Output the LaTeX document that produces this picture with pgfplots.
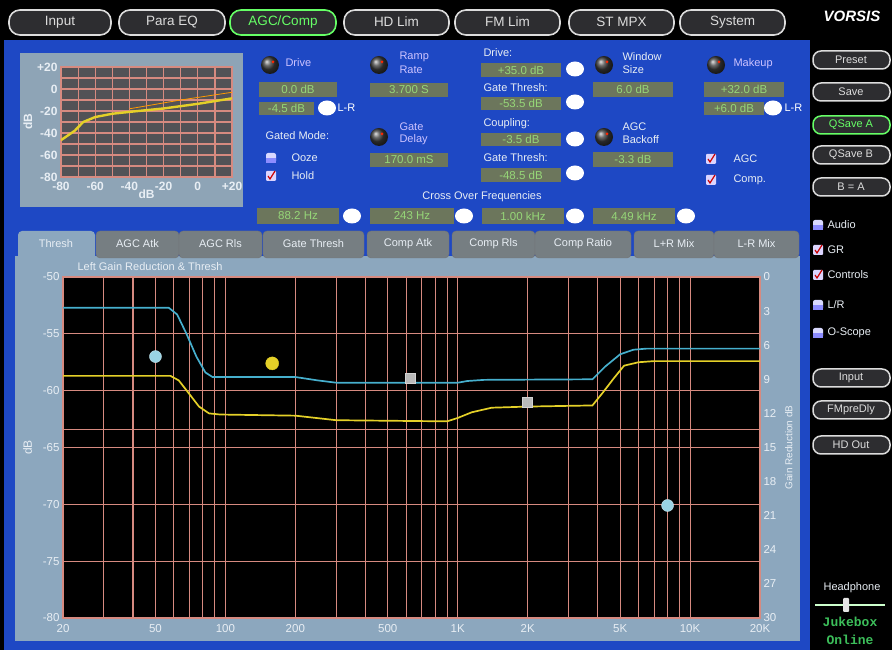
\documentclass[border=0pt]{standalone}
\usepackage{fontspec}
\setmainfont{Liberation Sans}
\setmonofont{Liberation Mono}
\usepackage{pgfplots}
\pgfplotsset{compat=1.18}

\definecolor{uiblue}{RGB}{30,72,196}
\definecolor{panel}{RGB}{140,167,190}
\definecolor{gridc}{RGB}{214,138,128}
\definecolor{labc}{RGB}{232,238,244}
\definecolor{boxf}{RGB}{108,118,92}
\definecolor{boxt}{RGB}{150,215,120}
\definecolor{lav}{RGB}{205,195,255}
\definecolor{cyanc}{RGB}{70,175,205}
\definecolor{yelc}{RGB}{228,208,40}
\definecolor{tabg}{RGB}{118,126,130}
\definecolor{btnfill}{RGB}{45,45,48}
\definecolor{grn}{RGB}{60,190,90}
\definecolor{insetbg}{RGB}{82,82,86}
\definecolor{insetpan}{RGB}{142,164,182}
\definecolor{btntext}{RGB}{220,220,220}

\newcommand\uif{\fontsize{11}{13}\selectfont}
\newcommand\valf{\fontsize{11.5}{13}\selectfont}
\newcommand\bigf{\fontsize{13.5}{15}\selectfont}

% value box: x1 y1 x2 y2 text
\newcommand\valbox[5]{\fill[boxf] (#1,#2) rectangle (#3,#4);
  \node[text=boxt, font=\valf] at ({(#1+#3)/2},{(#2+#4)/2}) {#5};}
\newcommand\slider[2]{\fill[white] (#1,#2) ellipse[x radius=9pt, y radius=7.5pt];}
\newcommand\dial[2]{\shade[ball color=black!55!gray] (#1,#2) circle[radius=9pt];
  \fill[red!70!orange] ({#1+3},{#2-3}) circle[radius=1.5pt];}
\newcommand\chkicon[2]{\fill[lav!70!white, rounded corners=1pt] ({#1-5},{#2-5}) rectangle ({#1+5},{#2+5});
  \draw[red!80!black, line width=1.2pt] ({#1-3},#2) -- ({#1-1},{#2+3}) -- ({#1+4},{#2-5});}
\newcommand\cylicon[2]{\fill[white!85!blue, rounded corners=2pt] ({#1-5},{#2-5}) rectangle ({#1+5},{#2+5});
  \fill[blue!45!white] ({#1-5},{#2}) rectangle ({#1+5},{#2+5});}
% top button: x1 x2 label colour
\newcommand\topbtn[4]{\draw[line width=1.6pt, draw=#4, fill=btnfill, rounded corners=11pt] (#1,10) rectangle (#2,35);
  \node[text=#4, font=\bigf] at ({(#1+#2)/2},22) {#3};}
% side button: centre y, label, colour
\newcommand\sidebtn[3]{\draw[line width=1.5pt, draw=#3, fill=btnfill, rounded corners=8pt] (813,{#1-9}) rectangle (890,{#1+9});
  \node[text=#3, font=\uif] at (851,#1) {#2};}
% panel tab: x1 x2 label fill
\newcommand\ptab[4]{\filldraw[fill=#4, draw=black!55, rounded corners=4pt] (#1,258) -- (#1,231) -- (#2,231) -- (#2,258) -- cycle;
  \node[text=labc, font=\uif] at ({(#1+#2)/2},244) {#3};}

\begin{document}
\begin{tikzpicture}[x=1pt,y=1pt]
\useasboundingbox (0,0) rectangle (892,650);
\fill[black] (0,0) rectangle (892,650);

\begin{scope}[shift={(0,650)}, y=-1pt]
  \fill[uiblue] (4,40) rectangle (810,650);
  % top row
  \topbtn{9}{111}{Input}{btntext}
  \topbtn{119}{225}{Para EQ}{btntext}
  \topbtn{230}{336}{AGC/Comp}{green!60!white}
  \topbtn{344}{449}{HD Lim}{btntext}
  \topbtn{455}{560}{FM Lim}{btntext}
  \topbtn{569}{674}{ST MPX}{btntext}
  \topbtn{680}{785}{System}{btntext}
  \node[text=white, font=\fontsize{15}{16}\selectfont\bfseries\itshape] at (852,16) {VORSIS};

  % inset panel
  \fill[insetpan] (20,53) rectangle (243,207);

  % controls
  \dial{270}{65} \node[text=lav, font=\uif, anchor=west] at (282,63) {Drive};
  \valbox{259}{82}{337}{97}{0.0 dB}
  \valbox{259}{102}{314}{115}{-4.5 dB} \slider{327}{108}
  \node[text=white, font=\uif, anchor=west] at (334,108) {L-R};
  \dial{379}{65}
  \node[text=lav, font=\uif, anchor=west] at (396,57) {Ramp};
  \node[text=lav, font=\uif, anchor=west] at (396,70) {Rate};
  \valbox{370}{83}{448}{97}{3.700 S}
  \node[text=labc, font=\uif, anchor=west] at (480,53) {Drive:};
  \valbox{481}{63}{561}{77}{+35.0 dB} \slider{575}{69}
  \node[text=labc, font=\uif, anchor=west] at (480,88) {Gate Thresh:};
  \valbox{481}{97}{561}{110}{-53.5 dB} \slider{575}{102}
  \dial{604}{65}
  \node[text=labc, font=\uif, anchor=west] at (619,57) {Window};
  \node[text=labc, font=\uif, anchor=west] at (619,70) {Size};
  \valbox{593}{82}{673}{97}{6.0 dB}
  \dial{716}{65} \node[text=lav, font=\uif, anchor=west] at (730,64) {Makeup};
  \valbox{704}{82}{784}{97}{+32.0 dB}
  \valbox{704}{102}{764}{115}{+6.0 dB} \slider{773}{108}
  \node[text=white, font=\uif, anchor=west] at (781,108) {L-R};

  \node[text=labc, font=\uif, anchor=west] at (262,136) {Gated Mode:};
  \cylicon{271}{158} \node[text=labc, font=\uif, anchor=west] at (288,158) {Ooze};
  \chkicon{271}{176} \node[text=labc, font=\uif, anchor=west] at (288,176) {Hold};
  \dial{379}{137}
  \node[text=lav, font=\uif, anchor=west] at (396,127) {Gate};
  \node[text=lav, font=\uif, anchor=west] at (396,140) {Delay};
  \valbox{370}{153}{448}{167}{170.0 mS}
  \node[text=labc, font=\uif, anchor=west] at (480,124) {Coupling:};
  \valbox{481}{133}{561}{146}{-3.5 dB} \slider{575}{139}
  \node[text=labc, font=\uif, anchor=west] at (480,158) {Gate Thresh:};
  \valbox{481}{168}{561}{182}{-48.5 dB} \slider{575}{173}
  \dial{604}{137}
  \node[text=labc, font=\uif, anchor=west] at (619,127) {AGC};
  \node[text=labc, font=\uif, anchor=west] at (619,140) {Backoff};
  \valbox{593}{152}{673}{167}{-3.3 dB}
  \chkicon{711}{159} \node[text=labc, font=\uif, anchor=west] at (730,159) {AGC};
  \chkicon{711}{180} \node[text=labc, font=\uif, anchor=west] at (730,180) {Comp.};

  \node[text=labc, font=\uif] at (482,197) {Cross Over Frequencies};
  \valbox{257}{208}{339}{224}{88.2 Hz} \slider{352}{216}
  \valbox{370}{208}{454}{224}{243 Hz} \slider{464}{216}
  \valbox{482}{208}{564}{224}{1.00 kHz} \slider{575}{216}
  \valbox{593}{208}{675}{224}{4.49 kHz} \slider{686}{216}

  % lower panel and tabs
  \fill[panel] (15,256) rectangle (800,641);
  \ptab{96}{179}{AGC Atk}{tabg}
  \ptab{179}{262}{AGC Rls}{tabg}
  \ptab{263}{364}{Gate Thresh}{tabg}
  \ptab{367}{449}{Comp Atk}{tabg}
  \ptab{452}{535}{Comp Rls}{tabg}
  \ptab{535}{631}{Comp Ratio}{tabg}
  \ptab{634}{714}{L+R Mix}{tabg}
  \ptab{714}{799}{L-R Mix}{tabg}
  \fill[panel, rounded corners=4pt] (18,262) -- (18,231) -- (95,231) -- (95,262) -- cycle;
  \node[text=labc, font=\uif] at (56,244) {Thresh};
  \node[text=labc, font=\uif, anchor=west] at (74,267) {Left Gain Reduction \& Thresh};

  % right column
  \sidebtn{60}{Preset}{btntext}
  \sidebtn{92}{Save}{btntext}
  \sidebtn{125}{QSave A}{green!60!white}
  \sidebtn{155}{QSave B}{btntext}
  \sidebtn{187}{B = A}{btntext}
  \cylicon{818}{225} \node[text=labc, font=\uif, anchor=west] at (824,225) {Audio};
  \chkicon{818}{250} \node[text=labc, font=\uif, anchor=west] at (824,250) {GR};
  \chkicon{818}{275} \node[text=labc, font=\uif, anchor=west] at (824,275) {Controls};
  \cylicon{818}{305} \node[text=labc, font=\uif, anchor=west] at (824,305) {L/R};
  \cylicon{818}{333} \node[text=labc, font=\uif, anchor=west] at (824,333) {O-Scope};
  \sidebtn{378}{Input}{btntext}
  \sidebtn{410}{FMpreDly}{btntext}
  \sidebtn{445}{HD Out}{btntext}
  \node[text=labc, font=\uif] at (852,588) {Headphone};
  \draw[line width=2pt, white!80!green] (815,605) -- (885,605);
  \fill[white!80!gray, rounded corners=1pt] (843,598) rectangle (849,612);
  \node[text=grn, font=\fontsize{13}{14}\selectfont\ttfamily\bfseries] at (850,622) {Jukebox};
  \node[text=grn, font=\fontsize{13}{14}\selectfont\ttfamily\bfseries] at (850,640) {Online};
\end{scope}

% inset transfer curve
\begin{axis}[
  at={(61pt,473pt)}, anchor=south west, scale only axis,
  width=171pt, height=110pt,
  xmin=-80, xmax=20, ymin=-80, ymax=20,
  xtick={-80,-70,...,20}, ytick={-80,-70,...,20},
  xticklabels={-80,,-60,,-40,,-20,,0,,+20},
  yticklabels={-80,,-60,,-40,,-20,,0,,+20},
  grid=major, grid style={draw=gridc, line width=1.2pt},
  axis background/.style={fill=insetbg},
  axis line style={draw=gridc, line width=1.2pt},
  major tick length=0pt,
  tick label style={text=labc, font=\fontsize{12}{13}\selectfont\bfseries},
  xticklabel style={yshift=-2pt},
  xlabel={dB}, ylabel={dB},
  label style={text=labc, font=\fontsize{12}{13}\selectfont\bfseries},
  xlabel style={yshift=8pt}, ylabel style={yshift=-2pt},
]
\addplot[orange!80!yellow, line width=0.8pt] coordinates {(-40,-18) (-10,-10) (20,-3)};
\addplot[yelc, line width=2.4pt] coordinates {
  (-80,-46.5) (-72,-38) (-67,-30) (-60,-25.5) (-50,-22.5) (-38,-20.5)
  (-20,-17.7) (0,-13.5) (20,-8.5)};
\end{axis}

% main graph: threshold vs frequency
\begin{axis}[
  at={(63pt,32pt)}, anchor=south west, scale only axis,
  width=697pt, height=341pt,
  xmode=log, xmin=20, xmax=20000, ymin=-80, ymax=-50,
  axis background/.style={fill=black},
  axis line style={draw=gridc, line width=1.1pt},
  grid=both,
  major grid style={draw=gridc, line width=1.1pt},
  minor grid style={draw=gridc, line width=1.1pt},
  xtick={20,50,100,200,500,1000,2000,5000,10000,20000},
  xticklabels={20,50,100,200,500,1K,2K,5K,10K,20K},
  minor xtick={30,40,60,70,80,90,300,400,600,700,800,900,3000,4000,6000,7000,8000,9000},
  ytick={-80,-75,...,-50},
  extra y ticks={-63.4}, extra y tick labels={},
  extra y tick style={grid=major},
  major tick length=0pt, minor tick length=0pt,
  tick label style={text=labc, font=\fontsize{11.5}{13}\selectfont},
  xticklabel style={yshift=-3pt},
  /pgf/number format/assume math mode=true,
  ylabel={dB}, ylabel style={text=labc, font=\fontsize{12}{13}\selectfont, yshift=4pt},
]
\addplot[cyanc, line width=1.7pt] coordinates {
  (20,-52.7) (57,-52.7) (62,-53.3) (68,-55.0) (75,-57.0) (82,-58.4) (88,-58.8)
  (200,-58.8) (250,-59.1) (300,-59.3) (1000,-59.3) (1100,-59.15) (1300,-59.05)
  (3800,-59.0) (4300,-57.9) (5000,-56.8) (5700,-56.4) (6500,-56.3) (20000,-56.3)};
\addplot[yelc, line width=1.7pt] coordinates {
  (20,-58.7) (58,-58.7) (63,-59.1) (70,-60.3) (77,-61.4) (85,-62.0) (95,-62.1)
  (200,-62.2) (300,-62.6) (900,-62.7) (1000,-62.4) (1150,-61.9) (1400,-61.5)
  (2000,-61.4) (3800,-61.3) (4200,-60.2) (4700,-58.9) (5200,-57.8) (6000,-57.5)
  (7000,-57.4) (20000,-57.4)};
\addplot[only marks, mark=*, mark size=6pt, mark options={fill=cyanc!55!white, draw=white!70!cyanc}]
  coordinates {(50,-57.0) (8000,-70.1)};
\addplot[only marks, mark=*, mark size=6.5pt, mark options={fill=yelc, draw=yelc}]
  coordinates {(159,-57.6)};
\addplot[only marks, mark=square*, mark size=5pt, mark options={fill=gray!55!white, draw=gray!35!white}]
  coordinates {(623,-58.9) (2000,-61.0)};
\end{axis}

% gain reduction scale on the right
\begin{axis}[
  at={(63pt,32pt)}, anchor=south west, scale only axis,
  width=697pt, height=341pt,
  xmin=0, xmax=1, ymin=0, ymax=30, y dir=reverse,
  hide x axis, axis y line*=right, axis line style={draw=none},
  ytick={0,3,...,30}, major tick length=0pt,
  /pgf/number format/assume math mode=true,
  yticklabel style={text=labc, font=\fontsize{11.5}{13}\selectfont},
  ylabel={Gain Reduction dB},
  ylabel style={text=labc, font=\fontsize{10}{12}\selectfont, yshift=-2pt},
]
\addplot[draw=none] coordinates {(0,0)};
\end{axis}
\end{tikzpicture}
\end{document}
